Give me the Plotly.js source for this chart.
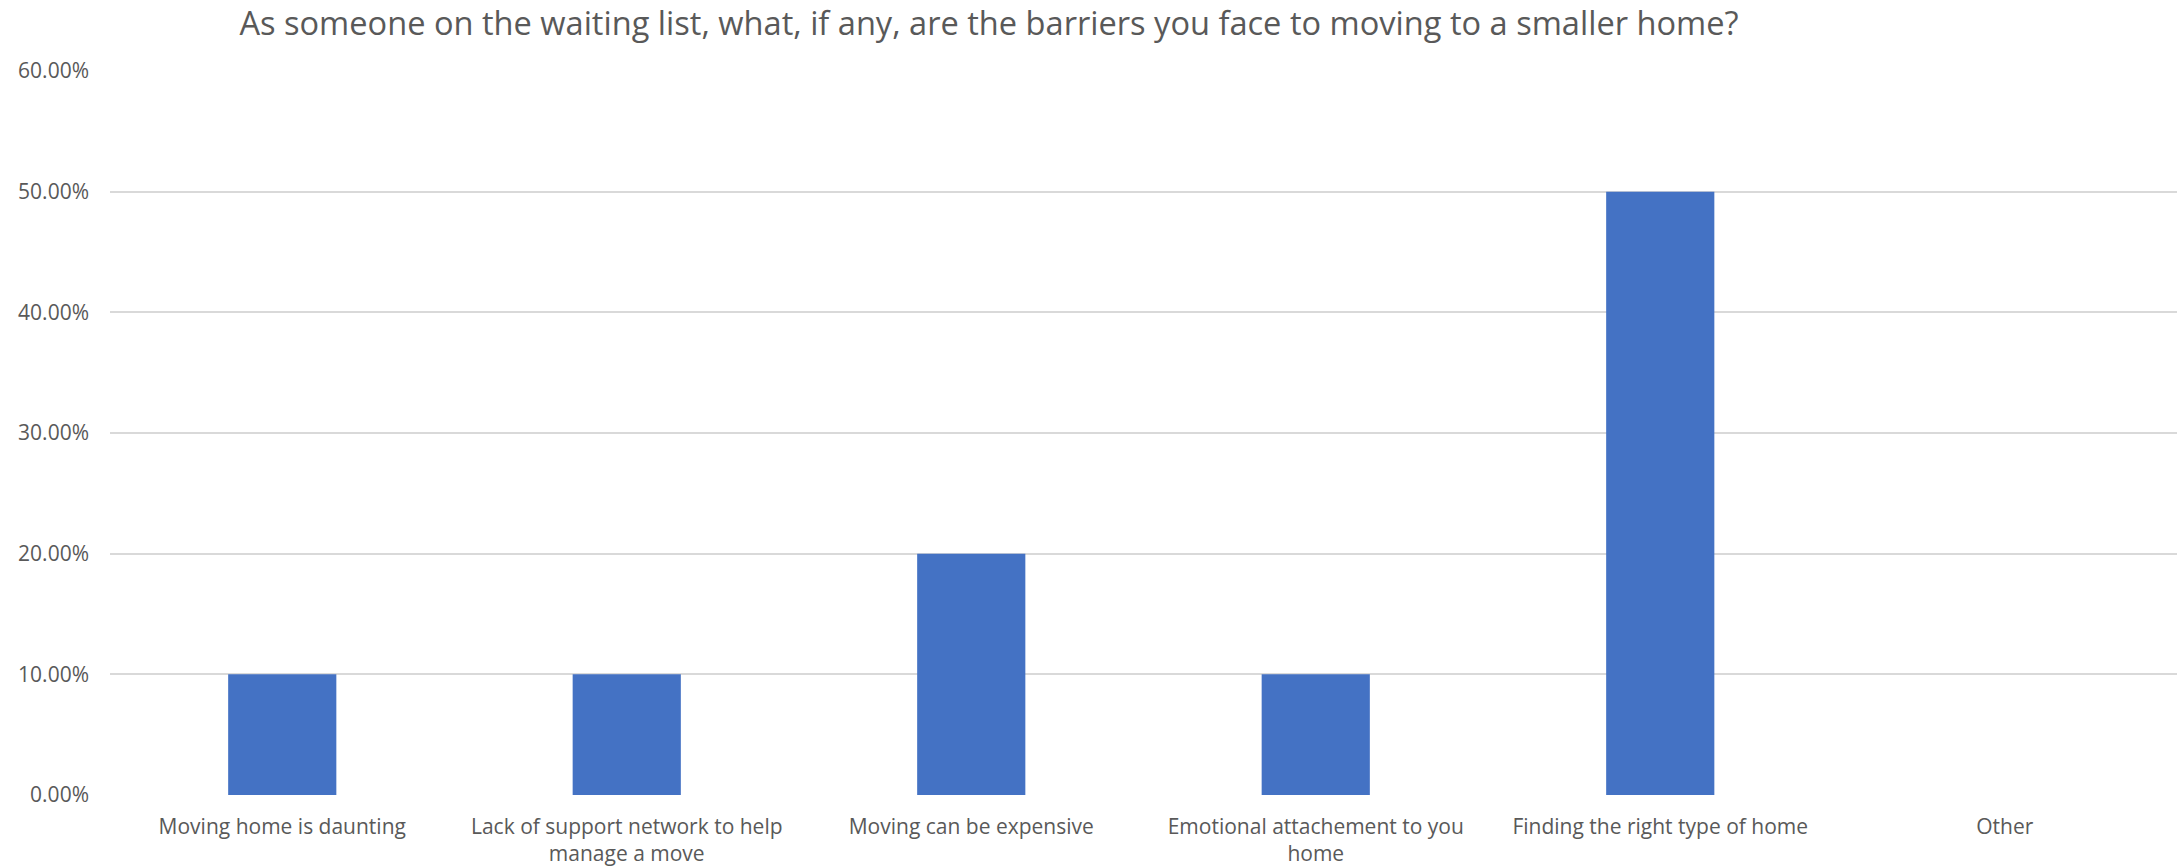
<!DOCTYPE html>
<html>
<head>
<meta charset="utf-8">
<script src="https://cdn.plot.ly/plotly-3.0.1.min.js"></script>
<style>
  html, body { margin: 0; padding: 0; background: #ffffff; }
  #chart { width: 2178px; height: 868px; }
</style>
</head>
<body>
<div id="chart"></div>
<script>
const chartTitle = "As someone on the waiting list, what, if any, are the barriers you face to moving to a smaller home?";
const categories = [
  "Moving home is daunting",
  "Lack of support network to help manage a move",
  "Moving can be expensive",
  "Emotional attachement to you home",
  "Finding the right type of home",
  "Other"
];
const tickLabels = [
  "Moving home is daunting",
  "Lack of support network to help<br>manage a move",
  "Moving can be expensive",
  "Emotional attachement to you<br>home",
  "Finding the right type of home",
  "Other"
];
const values = [0.10, 0.10, 0.20, 0.10, 0.50, 0.00];
const yTicks = [0, 0.1, 0.2, 0.3, 0.4, 0.5, 0.6];

const FONT = "Open Sans, Noto Sans, sans-serif";
const TEXT = "#595959";

const trace = {
  type: "bar",
  x: categories,
  y: values,
  marker: { color: "#4472C4", line: { width: 0 } },
  hoverinfo: "x+y"
};

const layout = {
  width: 2178,
  height: 868,
  paper_bgcolor: "#ffffff",
  plot_bgcolor: "#ffffff",
  margin: { l: 110, r: 1, t: 71, b: 73, pad: 0 },
  bargap: 0.686,
  showlegend: false,
  font: { family: FONT, color: TEXT, size: 21 },
  title: {
    text: chartTitle,
    font: { family: FONT, size: 32.6, color: TEXT },
    x: 989 / 2178,
    xanchor: "center",
    xref: "container",
    y: 1 - 24 / 868,
    yanchor: "middle",
    yref: "container"
  },
  xaxis: {
    type: "category",
    tickmode: "array",
    tickvals: categories,
    ticktext: tickLabels,
    ticks: "",
    showgrid: false,
    zeroline: false,
    showline: false,
    automargin: false,
    tickfont: { family: FONT, size: 21, color: TEXT },
    ticklabelstandoff: 17
  },
  yaxis: {
    range: [0, 0.6],
    tickmode: "array",
    tickvals: yTicks,
    tickformat: ".2%",
    ticks: "",
    showgrid: true,
    gridcolor: "#d9d9d9",
    gridwidth: 1.5,
    zeroline: false,
    showline: false,
    automargin: false,
    tickfont: { family: FONT, size: 21, color: TEXT },
    ticklabelstandoff: 20
  }
};

Plotly.newPlot("chart", [trace], layout, { displayModeBar: false, staticPlot: false });
</script>
</body>
</html>
